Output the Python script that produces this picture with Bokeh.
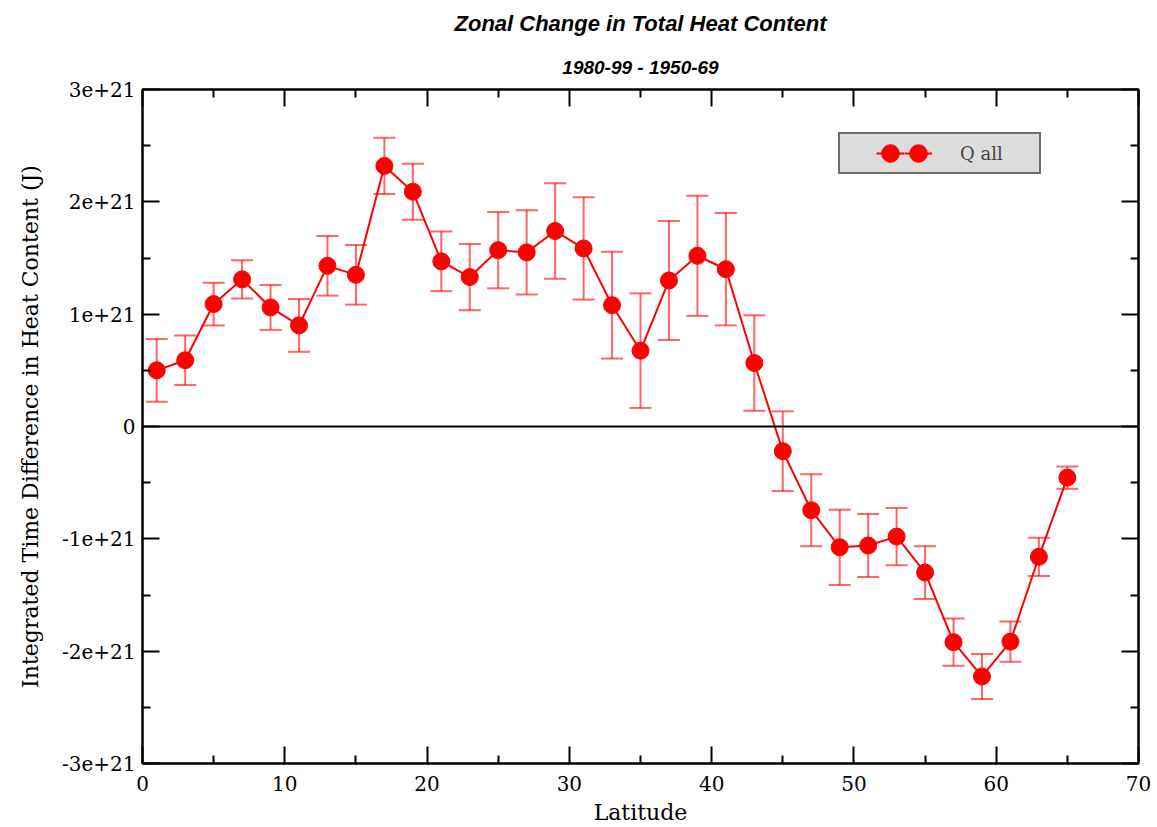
from bokeh.plotting import figure
from bokeh.models import (ColumnDataSource, Whisker, TeeHead, Span, FixedTicker, LinearAxis,
                          CustomJSTickFormatter, Legend, LegendItem, Title, Range1d)
from bokeh.embed import file_html
from bokeh.resources import INLINE

# ---- data (values in J) ----
latitude = [1, 3, 5, 7, 9, 11, 13, 15, 17, 19, 21, 23, 25, 27, 29, 31, 33,
            35, 37, 39, 41, 43, 45, 47, 49, 51, 53, 55, 57, 59, 61, 63, 65]
heat_e21 = [0.50, 0.59, 1.09, 1.31, 1.06, 0.90, 1.43, 1.35, 2.32, 2.09, 1.47, 1.33,
            1.57, 1.55, 1.74, 1.585, 1.08, 0.675, 1.30, 1.52, 1.40, 0.565, -0.22,
            -0.745, -1.075, -1.06, -0.98, -1.30, -1.92, -2.225, -1.915, -1.16, -0.455]
err_e21 = [0.28, 0.22, 0.19, 0.17, 0.20, 0.235, 0.265, 0.265, 0.25, 0.25, 0.265, 0.295,
           0.34, 0.375, 0.425, 0.455, 0.475, 0.51, 0.53, 0.535, 0.50, 0.425, 0.355,
           0.32, 0.335, 0.28, 0.255, 0.235, 0.21, 0.20, 0.18, 0.17, 0.10]
x_ticks = [0, 10, 20, 30, 40, 50, 60, 70]
x_minor = [5, 15, 25, 35, 45, 55, 65]
y_ticks_e21 = [-3, -2, -1, 0, 1, 2, 3]
y_minor_e21 = [-2.5, -1.5, -0.5, 0.5, 1.5, 2.5]

title_text = "Zonal Change in Total Heat Content"
subtitle_text = "1980-99 - 1950-69"
series_label = "Q all"

heat = [v * 1e21 for v in heat_e21]
err = [v * 1e21 for v in err_e21]
source = ColumnDataSource(dict(
    x=latitude, y=heat,
    upper=[h + e for h, e in zip(heat, err)],
    lower=[h - e for h, e in zip(heat, err)],
))

SERIF = "DejaVu Serif"

p = figure(width=1157, height=827, output_backend="svg", toolbar_location=None,
           title=None, x_range=Range1d(0, 70), y_range=Range1d(-3e21, 3e21),
           min_border_left=142, min_border_right=19, min_border_top=89, min_border_bottom=62,
           background_fill_color="white", border_fill_color="white")
p.grid.visible = False
p.outline_line_color = "black"
p.outline_line_width = 2

xa = p.below[0]
ya = p.left[0]

xt = FixedTicker(ticks=x_ticks, minor_ticks=x_minor)
yt = FixedTicker(ticks=[v * 1e21 for v in y_ticks_e21], minor_ticks=[v * 1e21 for v in y_minor_e21])
yfmt = CustomJSTickFormatter(code="""
if (Math.abs(tick) < 1) return "0";
return (Math.round(tick/1e21)).toString() + "e+21";
""")
blank_fmt = CustomJSTickFormatter(code='return "";')


def style_axis(ax, labels=True):
    ax.axis_line_color = "black"
    ax.axis_line_width = 2
    ax.major_tick_line_color = "black"
    ax.minor_tick_line_color = "black"
    ax.major_tick_line_width = 2
    ax.minor_tick_line_width = 2
    ax.major_tick_in = 17
    ax.major_tick_out = 0
    ax.minor_tick_in = 8
    ax.minor_tick_out = 0
    if labels:
        ax.major_label_text_font = SERIF
        ax.major_label_text_font_size = "20px"
        ax.major_label_text_color = "black"
        ax.axis_label_text_font = SERIF
        ax.axis_label_text_font_style = "normal"
        ax.axis_label_text_color = "black"
    else:
        ax.formatter = blank_fmt
        ax.major_label_text_color = None
        ax.major_label_text_font_size = "0px"
        ax.major_label_standoff = 0


# mirrored tick axes (added first so they sit next to the frame)
top_ax = LinearAxis(ticker=FixedTicker(ticks=x_ticks, minor_ticks=x_minor))
style_axis(top_ax, labels=False)
p.add_layout(top_ax, "above")
right_ax = LinearAxis(ticker=FixedTicker(ticks=[v * 1e21 for v in y_ticks_e21],
                                         minor_ticks=[v * 1e21 for v in y_minor_e21]))
style_axis(right_ax, labels=False)
p.add_layout(right_ax, "right")

p.add_layout(Title(text=subtitle_text, text_font="Liberation Sans", text_font_size="19px",
                   text_font_style="bold italic", text_color="black", align="center",
                   standoff=23), "above")
p.add_layout(Title(text=title_text, text_font="Liberation Sans", text_font_size="22px",
                   text_font_style="bold italic", text_color="black", align="center",
                   standoff=15), "above")

xa.ticker = xt
style_axis(xa)
xa.axis_label = "Latitude"
xa.axis_label_text_font_size = "22px"
xa.major_label_standoff = 12
xa.axis_label_standoff = 6

ya.ticker = yt
ya.formatter = yfmt
style_axis(ya)
ya.axis_label = "Integrated Time Difference in Heat Content (J)"
ya.axis_label_text_font_size = "22px"
ya.major_label_standoff = 7
ya.axis_label_standoff = 16

p.add_layout(Span(location=0, dimension="width", line_color="black", line_width=2))

wh = Whisker(base="x", upper="upper", lower="lower", source=source,
             line_color="red", line_alpha=0.6, line_width=2,
             upper_head=TeeHead(size=22, line_color="red", line_alpha=0.6, line_width=2),
             lower_head=TeeHead(size=22, line_color="red", line_alpha=0.6, line_width=2))
p.add_layout(wh)

line_r = p.line("x", "y", source=source, line_color="red", line_width=2)
dot_r = p.ellipse("x", "y", source=source, width=17, height=17,
                  width_units="screen", height_units="screen",
                  fill_color="red", line_color="red")
blank_r = p.line(x=[], y=[], line_alpha=0)

legend = Legend(items=[LegendItem(label="", renderers=[blank_r]),
                       LegendItem(label="", renderers=[line_r, dot_r]),
                       LegendItem(label="", renderers=[line_r, dot_r]),
                       LegendItem(label=series_label, renderers=[blank_r]),
                       LegendItem(label="", renderers=[blank_r])],
                orientation="horizontal", location=(696, 589),
                glyph_width=28, glyph_height=22, label_width=0, label_height=22,
                label_standoff=0, spacing=0, padding=8, margin=0,
                background_fill_color="#dcdcdc", background_fill_alpha=1,
                border_line_color="black", border_line_width=2,
                label_text_font=SERIF, label_text_font_size="18px")
p.add_layout(legend)

open("out.html", "w").write(file_html(p, INLINE))
